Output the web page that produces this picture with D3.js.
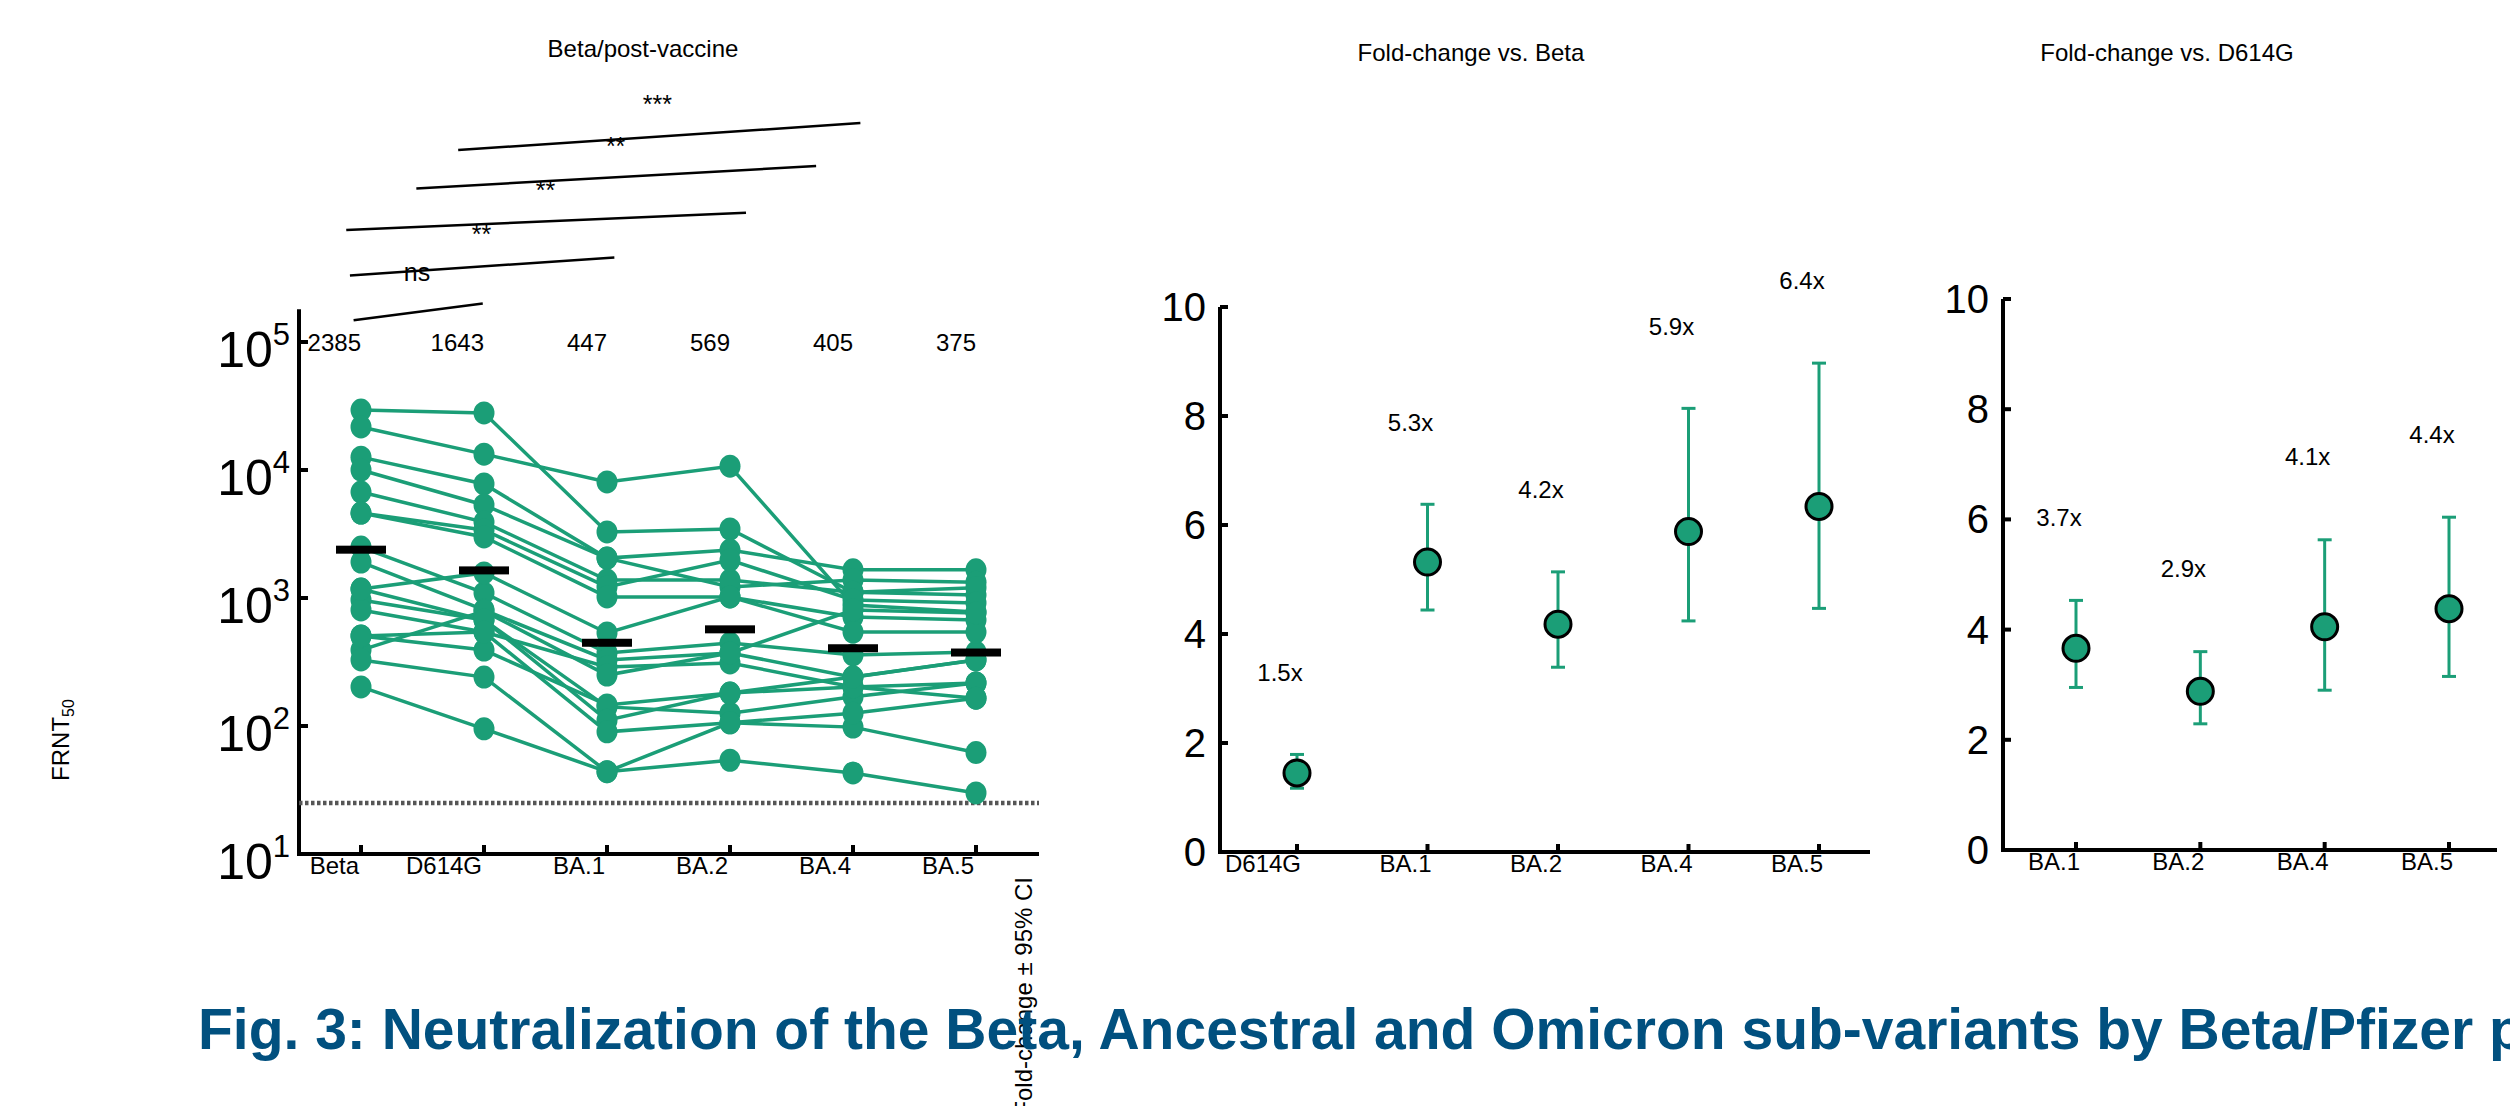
<!DOCTYPE html>
<meta charset="utf-8">
<head>
	<title>Fig. 3 Neutralization</title>
</head>

<style>
	body { margin: 0; background: #fff; }
	text { font-family: "Liberation Sans", Arial, sans-serif; fill: #000; }
	.narrow { font-family: "Liberation Sans Narrow", "Arial Narrow", sans-serif; }
</style>

<body>

<svg id="fig" width="2510" height="1106"></svg>

<script src="https://d3js.org/d3.v7.min.js"></script>
<script>

	// FRNT50 per participant, columns follow variants
	var variants = ["Beta", "D614G", "BA.1", "BA.2", "BA.4", "BA.5"];
	var subjects = [
		[29400, 27900, 3280, 3460, 1110, 1055],
		[21700, 13300, 8060, 10700, 880, 778],
		[12600, 7780, 2050, 2370, 1660, 1660],
		[10000, 5330, 2050, 1220, 1380, 1330],
		[6730, 3920, 1380, 1380, 1110, 1200],
		[4610, 3400, 1220, 1980, 965, 915],
		[4610, 3000, 1020, 1020, 711, 673],
		[2500, 1095, 372, 445, 359, 378],
		[1910, 806, 328, 372, 241, 328],
		[1175, 1570, 533, 1020, 542, 542],
		[965, 673, 141, 126, 169, 217],
		[806, 542, 289, 311, 202, 217],
		[505, 392, 146, 181, 202, 165],
		[392, 790, 250, 372, 806, 764],
		[328, 241, 44, 106, 98, 62],
		[202, 95, 44, 54, 43, 30],
		[1175, 673, 111, 181, 241, 328],
		[505, 542, 90, 106, 126, 165]
	];
	var gmt = [2385, 1643, 447, 569, 405, 375];
	var lod = 25;
	var logTicks = [10, 100, 1000, 10000, 100000];

	// significance brackets: [category index, log10 level]
	var sigLabels = ["ns", "**", "**", "**", "***"];
	var sigStart = [[-0.06, 5.17], [-0.09, 5.52], [-0.12, 5.875], [0.45, 6.2], [0.79, 6.5]];
	var sigEnd = [[0.99, 5.3], [2.06, 5.66], [3.13, 6.01], [3.7, 6.375], [4.06, 6.71]];
	var sigText = [[0.455, 5.55], [0.98, 5.84], [1.5, 6.19], [2.07, 6.53], [2.41, 6.86]];

	var foldBetaCats = ["D614G", "BA.1", "BA.2", "BA.4", "BA.5"];
	var foldBeta = [1.45, 5.32, 4.18, 5.88, 6.34];
	var foldBetaLo = [1.17, 4.44, 3.39, 4.24, 4.47];
	var foldBetaHi = [1.79, 6.38, 5.14, 8.14, 8.97];
	var foldBetaText = ["1.5x", "5.3x", "4.2x", "5.9x", "6.4x"];

	var foldD614GCats = ["BA.1", "BA.2", "BA.4", "BA.5"];
	var foldD614G = [3.66, 2.88, 4.05, 4.38];
	var foldD614GLo = [2.95, 2.29, 2.90, 3.15];
	var foldD614GHi = [4.53, 3.60, 5.63, 6.04];
	var foldD614GText = ["3.7x", "2.9x", "4.1x", "4.4x"];
	var foldTicks = [0, 2, 4, 6, 8, 10];

	var green = "#1b9e77";
	var svg = d3.select("#fig");

	// ---------- panel 1 : FRNT50 ----------
	var x1 = d3.scalePoint().domain(variants).range([361, 976]);
	var xi = d3.scaleLinear().domain([0, 5]).range([361, 976]);
	var y1 = d3.scaleLog().domain([10, 100000]).range([854, 342]);
	var p1 = svg.append("g");

	p1.append("text")
		.attr("x", 643).attr("y", 57)
		.attr("text-anchor", "middle")
		.style("font-size", "24px")
		.text("Beta/post-vaccine");

	sigLabels.forEach(function(lab, i) {
		p1.append("line")
			.attr("x1", xi(sigStart[i][0])).attr("y1", y1(Math.pow(10, sigStart[i][1])))
			.attr("x2", xi(sigEnd[i][0])).attr("y2", y1(Math.pow(10, sigEnd[i][1])))
			.attr("stroke", "#000").attr("stroke-width", 2.5);
		p1.append("text")
			.attr("x", xi(sigText[i][0])).attr("y", y1(Math.pow(10, sigText[i][1])) + 9)
			.attr("text-anchor", "middle")
			.style("font-size", "25px")
			.text(lab);
	});

	// axes
	p1.append("line")
		.attr("x1", 299).attr("x2", 299)
		.attr("y1", y1(10) + 2).attr("y2", y1(180000))
		.attr("stroke", "#000").attr("stroke-width", 4);
	p1.append("line")
		.attr("x1", 297).attr("x2", 1039)
		.attr("y1", y1(10)).attr("y2", y1(10))
		.attr("stroke", "#000").attr("stroke-width", 4);

	p1.selectAll(".ytick").data(logTicks).enter()
		.append("line")
		.attr("x1", 299).attr("x2", 308)
		.attr("y1", function(d) { return y1(d); })
		.attr("y2", function(d) { return y1(d); })
		.attr("stroke", "#000").attr("stroke-width", 4);

	var ylab = p1.selectAll(".ylab").data(logTicks).enter()
		.append("text")
		.attr("class", "narrow")
		.attr("x", 290)
		.attr("y", function(d) { return y1(d) + 25; })
		.attr("text-anchor", "end")
		.style("font-size", "50px")
		.text("10");
	ylab.append("tspan")
		.attr("dy", -22)
		.style("font-size", "31px")
		.text(function(d) { return Math.round(Math.log10(d)); });

	p1.selectAll(".xtick").data(variants).enter()
		.append("line")
		.attr("x1", function(d) { return x1(d); })
		.attr("x2", function(d) { return x1(d); })
		.attr("y1", y1(10)).attr("y2", y1(10) - 9)
		.attr("stroke", "#000").attr("stroke-width", 4);

	p1.selectAll(".xlab").data(variants).enter()
		.append("text")
		.attr("x", function(d) { return x1(d) - 2; })
		.attr("y", y1(10) + 20)
		.attr("text-anchor", "end")
		.style("font-size", "24px")
		.text(function(d) { return d; });

	p1.selectAll(".gmtlab").data(gmt).enter()
		.append("text")
		.attr("x", function(d, i) { return x1(variants[i]); })
		.attr("y", y1(100000) + 9)
		.attr("text-anchor", "end")
		.style("font-size", "24px")
		.text(function(d) { return d; });

	// limit of detection
	p1.append("line")
		.attr("x1", 299).attr("x2", 1039)
		.attr("y1", y1(lod)).attr("y2", y1(lod))
		.attr("stroke", "#555").attr("stroke-width", 4.5)
		.attr("stroke-dasharray", "3.5 2.5");

	var line = d3.line()
		.x(function(d, i) { return x1(variants[i]); })
		.y(function(d) { return y1(d); });

	p1.selectAll(".subj").data(subjects).enter()
		.append("path")
		.attr("d", line)
		.attr("fill", "none")
		.attr("stroke", green)
		.attr("stroke-width", 3.5);

	subjects.forEach(function(s) {
		p1.selectAll(null).data(s).enter()
			.append("ellipse")
			.attr("cx", function(d, i) { return x1(variants[i]); })
			.attr("cy", function(d) { return y1(d); })
			.attr("rx", 10.5).attr("ry", 11.5)
			.attr("fill", green);
	});

	p1.selectAll(".gmt").data(gmt).enter()
		.append("rect")
		.attr("x", function(d, i) { return x1(variants[i]) - 25; })
		.attr("y", function(d) { return y1(d) - 4; })
		.attr("width", 50).attr("height", 8)
		.attr("fill", "#000");

	svg.append("text")
		.attr("transform", "translate(69,740) rotate(-90)")
		.attr("text-anchor", "middle")
		.style("font-size", "24px")
		.text("FRNT")
		.append("tspan")
		.attr("dy", 5)
		.style("font-size", "16px")
		.text("50");

	svg.append("text")
		.attr("transform", "translate(1032,877) rotate(-90)")
		.attr("text-anchor", "end")
		.style("font-size", "24px")
		.text("Fold-change \u00b1 95% CI");

	// ---------- fold-change panels ----------
	function foldPanel(cats, vals, lo, hi, labels, title, titleX, xl, xr, ax0, ax1, yTop, yBot) {
		var x = d3.scalePoint().domain(cats).range([xl, xr]);
		var y = d3.scaleLinear().domain([0, 10]).range([yBot, yTop]);
		var g = svg.append("g");

		g.append("text")
			.attr("x", titleX).attr("y", 61)
			.attr("text-anchor", "middle")
			.style("font-size", "24px")
			.text(title);

		g.append("line")
			.attr("x1", ax0).attr("x2", ax0)
			.attr("y1", y(0) + 2).attr("y2", y(10))
			.attr("stroke", "#000").attr("stroke-width", 4);
		g.append("line")
			.attr("x1", ax0 - 2).attr("x2", ax1)
			.attr("y1", y(0)).attr("y2", y(0))
			.attr("stroke", "#000").attr("stroke-width", 4);

		g.selectAll(".yt").data(foldTicks).enter()
			.append("line")
			.attr("x1", ax0).attr("x2", ax0 + 8)
			.attr("y1", function(d) { return y(d); })
			.attr("y2", function(d) { return y(d); })
			.attr("stroke", "#000").attr("stroke-width", 4);

		g.selectAll(".yl").data(foldTicks).enter()
			.append("text")
			.attr("x", ax0 - 14)
			.attr("y", function(d) { return y(d) + 14; })
			.attr("text-anchor", "end")
			.style("font-size", "40px")
			.text(function(d) { return d; });

		g.selectAll(".xt").data(cats).enter()
			.append("line")
			.attr("x1", function(d) { return x(d); })
			.attr("x2", function(d) { return x(d); })
			.attr("y1", y(0)).attr("y2", y(0) - 8)
			.attr("stroke", "#000").attr("stroke-width", 4);

		g.selectAll(".xl").data(cats).enter()
			.append("text")
			.attr("x", function(d) { return x(d) + 4; })
			.attr("y", y(0) + 20)
			.attr("text-anchor", "end")
			.style("font-size", "24px")
			.text(function(d) { return d; });

		g.selectAll(".err").data(cats).enter()
			.append("line")
			.attr("x1", function(d) { return x(d); })
			.attr("x2", function(d) { return x(d); })
			.attr("y1", function(d, i) { return y(lo[i]); })
			.attr("y2", function(d, i) { return y(hi[i]); })
			.attr("stroke", green).attr("stroke-width", 3);

		[lo, hi].forEach(function(arr) {
			g.selectAll(null).data(cats).enter()
				.append("line")
				.attr("x1", function(d) { return x(d) - 7; })
				.attr("x2", function(d) { return x(d) + 7; })
				.attr("y1", function(d, i) { return y(arr[i]); })
				.attr("y2", function(d, i) { return y(arr[i]); })
				.attr("stroke", green).attr("stroke-width", 3);
		});

		g.selectAll(".pt").data(cats).enter()
			.append("circle")
			.attr("cx", function(d) { return x(d); })
			.attr("cy", function(d, i) { return y(vals[i]); })
			.attr("r", 13)
			.attr("fill", green)
			.attr("stroke", "#000").attr("stroke-width", 3);

		g.selectAll(".fl").data(cats).enter()
			.append("text")
			.attr("x", function(d) { return x(d) - 17; })
			.attr("y", function(d, i) { return y(hi[i] + 1.5) + 8; })
			.attr("text-anchor", "middle")
			.style("font-size", "24px")
			.text(function(d, i) { return labels[i]; });
	}

	foldPanel(foldBetaCats, foldBeta, foldBetaLo, foldBetaHi, foldBetaText,
		"Fold-change vs. Beta", 1471, 1297, 1819, 1220, 1870, 307, 852);
	foldPanel(foldD614GCats, foldD614G, foldD614GLo, foldD614GHi, foldD614GText,
		"Fold-change vs. D614G", 2167, 2076, 2449, 2003, 2497, 299, 850);

	// caption
	svg.append("text")
		.attr("x", 198).attr("y", 1049)
		.style("font-size", "57px")
		.style("font-weight", "bold")
		.style("fill", "#01507f")
		.text("Fig. 3: Neutralization of the Beta, Ancestral and Omicron sub-variants by Beta/Pfizer post-vaccination plasma");

</script>
</body>
</html>
